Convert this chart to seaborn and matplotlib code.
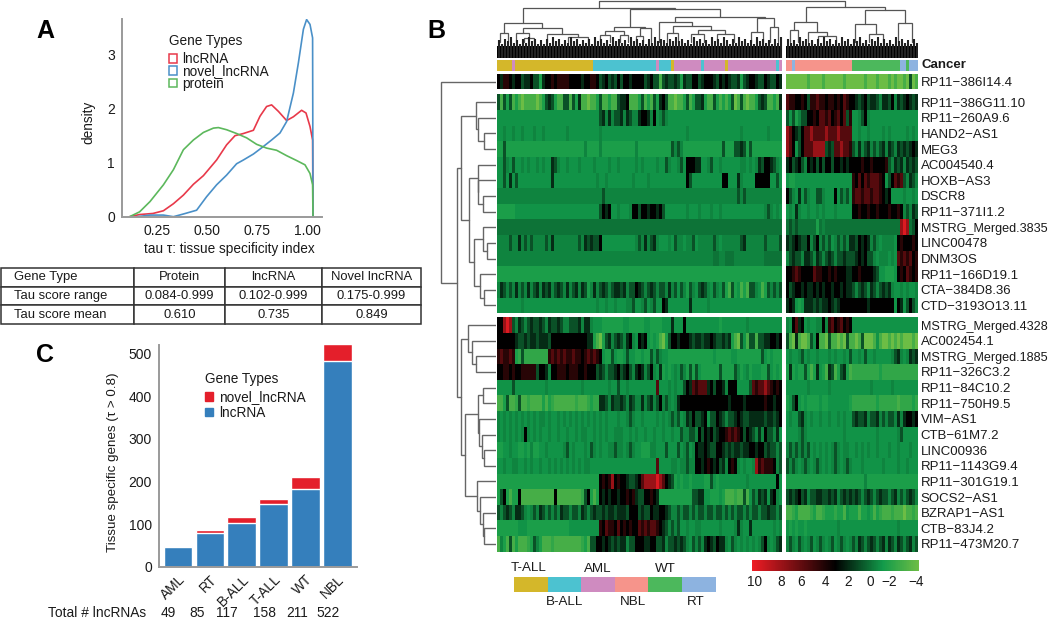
import numpy as np
import pandas as pd
import seaborn as sns
import matplotlib.pyplot as plt
import matplotlib.transforms as mtrans
from matplotlib.colors import LinearSegmentedColormap, ListedColormap
from matplotlib.patches import Patch

W, H = 1050, 619

# ---- panel A: density curves
protein_x = [.083, .133, .185, .252, .302, .352, .402, .452, .502, .527, .568, .618, .668, .718, .768, .818, .868, .918, .96, .985, .998, 1.0]
protein_y = [0, .09, .28, .59, .87, 1.24, 1.42, 1.56, 1.64, 1.65, 1.61, 1.54, 1.46, 1.34, 1.27, 1.23, 1.13, 1.04, .96, .80, .59, 0]
lnc_x = [.083, .133, .20, .252, .302, .352, .402, .452, .518, .568, .61, .652, .702, .735, .768, .793, .827, .868, .902, .943, .965, .985, .998, 1.0]
lnc_y = [0, .04, .06, .11, .24, .40, .60, .76, 1.05, 1.33, 1.50, 1.54, 1.60, 1.86, 2.04, 2.07, 1.95, 1.78, 1.85, 1.97, 1.92, 1.67, 1.42, 0]
novel_x = [.12, .185, .252, .302, .352, .418, .468, .518, .568, .618, .652, .702, .752, .793, .835, .868, .902, .927, .952, .968, .985, .998, 1.0]
novel_y = [0, .03, .03, 0, .05, .12, .37, .59, .77, .98, 1.05, 1.16, 1.30, 1.42, 1.55, 1.76, 2.29, 2.85, 3.47, 3.65, 3.56, 3.31, 0]

table_rows = [
    ["Gene Type", "Protein", "lncRNA", "Novel lncRNA"],
    ["Tau score range", "0.084-0.999", "0.102-0.999", "0.175-0.999"],
    ["Tau score mean", "0.610", "0.735", "0.849"],
]

# ---- panel C: stacked bars
cancers = ["AML", "RT", "B-ALL", "T-ALL", "WT", "NBL"]
total_lnc = [49, 85, 117, 158, 211, 522]
known_lnc = [46, 78, 103, 147, 183, 483]

# ---- panel B: heatmap rows, one letter per column, groups only to keep the eye aligned
LEVELS = {"l": -4, "h": -2.7, "g": -2, "i": -1.3, "m": -0.8, "d": -0.4, "c": 0, "v": 0.9,
          "b": 1.9, "k": 3, "w": 4.2, "r": 5.5, "s": 7.5, "t": 9.5}

row_names = ["RP11−386I14.4", "RP11−386G11.10", "RP11−260A9.6", "HAND2−AS1", "MEG3", "AC004540.4",
             "HOXB−AS3", "DSCR8", "RP11−371I1.2", "MSTRG_Merged.3835", "LINC00478", "DNM3OS",
             "RP11−166D19.1", "CTA−384D8.36", "CTD−3193O13.11", "MSTRG_Merged.4328", "AC002454.1",
             "MSTRG_Merged.1885", "RP11−326C3.2", "RP11−84C10.2", "RP11−750H9.5", "VIM−AS1",
             "CTB−61M7.2", "LINC00936", "RP11−1143G9.4", "RP11−301G19.1", "SOCS2−AS1",
             "BZRAP1−AS1", "CTB−83J4.2", "RP11−473M20.7"]

heat_left = [
    "kbwwkbkkvbbkvvibkkw kwwwwkkkkbkkwwkvbkv bvkvkkbkkkkvbkvvhvb vvbvibvvkkvbkkkbvkb kbvvbivbkkbvvkbvvkb",
    "vhvivhihlhhhhlhivbv ihhvvhvibhhlhhivhhi hhvbbkhhhivhihvibkv hhlhhivhivvbihhvihi hivlhvhlhhivbvhhihb",
    "mmmmmmmmmmmmmmmmmmm mmmmmmmmmmmmmmmvbdb dvvbdbvddbkkbdkmdvd mmmmmmmmmmmmmmmmmmm mmmmmmmmmmmmmmmmmmm",
    "mmdmmdmmdmmmdmmdmmm mmmmdmmmmmmmmmmdmmm mmmmmmmmmmmmmmmmmmm mmmmmmdmmmmmmmmmmmm mmmmmdmmmmmmmmdmmmm",
    "iiviiiiiiiiiiiiiiii iiiiiiiiiidiiiidiii iiiiiiiidiiiiiiiiii ivdvdiiiiiiiiiiiiiv iiivvbviviiiiiiiiii",
    "mmvdmvmmdmdmmdmdmmb vdmmdmmmdmmmmdmmmmd mmdmmmmmdmdmmmmdmmv dmmdvmkkkbbmmdvmmdm mmmmmddmdmdbvkkbvdm",
    "mmvmbmvmmmmmmmmmmmb mmmmmmmmmmmmmmdmmdm mmmmmmmdmmmmdmmmmmm mmmmmmkvmmmmmmmmmmk kmmmbdmmmmkkkkkmmvm",
    "ddddddddddddddddddd ddddddddddddddddvdd ddddddddddddddddddd ddddddddddddddddddd ddddvdvdddddddddddd",
    "iiiiiimmmmmmmmmmmmm mmmmmmmmmmmmmmmvkbk mmdmmmdkkvkkbkkbkvm mmmmmmdmmmdmmmdmmdm mmmmmmmmmmmmmdvdmdm",
    "ccccccccccccccccccc ccccccccccccccccccc ccccccccccccccccccc ccccccccccccccccccc ccccccccccccccccccc",
    "ddddvddbdvdvddddvdb ddddddddvdbvbvvkmmm mmmmmmmmdvdbdvbdmmm dmvddmddvmdddddvdmd dddddvbddddddvddddv",
    "ddddddddddddddddddd ddddddddddddddddddd ddddddddddddddddddd dddddddddddddddccdd cccddddddddddcccccc",
    "iiiiiiiiiiiiiiiiiii iiiiiiiiiiiiiiiiiii iiiiiiiiiiiiiiiiiii iiiiiiiiiiiiiiiiiii iiiiiiiiiiiiiiiiiii",
    "dbvdvdbdvdbdvbdbvbd vbvdbdvbdbvidbdvbvd vbbvbdvvkbvdvbvdvvd bdvmvdivdmvbvdmvdmv ihvimhihvvdmhivdvdv",
    "mmmmmmmmdmmmmmmmmmm mmmmmmmmmmmmmmdmmdm mdmmmddvmmdvmdvmmkb mmmmmmmbmmmmmdmmmmm mmmmmmmmmmmmmmmmmmm",
    "kkstsvdbvdvbvvbvdbv vbvddvvvbdbbdmmmiii iiiimmiiiiimmiiiimm mbmmmkmmmmmmmmmmmim mmmmmmmdmmmmmmmmmmm",
    "kkkkkkbvvbvbbvbbbvk kkkkkkkkkkkbbihlivb dvbvdbkdmkbkmimihli vkkbkkkbvbbvbbkbvvb vbihlvmhvvhvvbbkkbk",
    "wrwwrwigvggggggggwr wrwrwwrwwkwrwrwkmii vmiimvmmiimiivmvdmm iiiiiiiiiiiiiiimiii iimmiiiiiiiivmimiii",
    "kkwwkwkkwwwwwvkkbdk kwwwkwwwkkwkkkvbvdv vbkvbkvdbkbdvkdmbim imdmvdivivmiiiiiivi iiivdimdimmmiivmimi",
    "mmmmmvmmmmmmmmmmdmm mmmmmmmmmdmmmmmmmmd mmvmmdmmmmmmmmmrmmm dmdmmvkbrwrrrbkvkkb dkkkmmmmvrwrrsrwkwk",
    "hhivhhgvhhghhhhihig hhhhhhhghhhgiggbbvd bvvbvdbvddbdvbdvkdv dmdbkkkkkkkkkkkkkkk kbkkkkbkkkkkkwkkbkk",
    "dmdmdmdmdmdmdmddmdm mdmdmdmdmdmdmdmdmdm mmdmmdvdmmdmmmmdmdm dvdvmdbvkvvbkmvvkbv dvvbkbvvbbbbbvbbvbk",
    "dmdmdmdmdkdmdmdmmdm mdmmdmmdmddmmdmdmdm mdddmmdmdmmdmmdmmdm mdmmvddvvdkvkbkvbkk wrwrwkvkbvdbdkvvdbm",
    "iimmdmmiimidiimmdmm mmmdvmdmmmdmvdmdmmd dvddmdvdmmiiiddmmmv mmmvmdvmdkbbkbvvkkb vbvbbvbbkkbkkvbvvdv",
    "mmdmmddmmdmdmmdmmdm dmdmdmdmdmddmmmmmmm mmmmmmmmmmmmmmmrmmm mddmddvddkkbkwkbkvb dkwkdmdmmdswrwwwkdv",
    "iiiiiiiiiiiiiiiiiii iiiiiiiiiiiiiiikwkw skwkkbvvbkrsssstsrk bvimimmimmmmiivmimm mmmmmmmdmmmmmmmmmkm",
    "ivkihiikhhhhhhhhhhh khhhhhhhhgvkihikbkb kkbkkwkwbvvkkwkbiii iiiiiiiivvbbmmiiimi hhhghhvhmvdbvbmbkdm",
    "vdvbvdbbvdmdvdbvdvd vdbvvdvvdbvdvbvvbvb bvbbbvkkkvbvvkbbkkb vddvdvvdvdvvdvvdvvd vdvdvvdvdvvdvvbvvdv",
    "iiiiiiimmmiiiiiiiii iiiiimmmmmmmmmmwkrw wkrkwkwkkrwrwrrwkbv dvdvmmdmmddmmmmmmdm mmmdbdmmbmmmmmmmdmd",
    "hdihvhihhhgivdihhhg hhhhhhhhhgihvvkkbkb vbvbbdvvkkkbbkkvvbd vvbvbvdmvdvdbkbvkbb dmvdmdmdmdmdvkdmdvb",
]
heat_right = [
    "lllllllhlll lhllllllhll llllhlllhll lhlhllhlvlh",
    "rwwkkwkvwwr wwkwwkwkrwk kbvbkvbbvdb bvkdbvbkbvb",
    "vmvidvvkkwk rrwrkwrkrvw mmdvkdmmmmm mmmmmmmmmmm",
    "srkbvkrrsrr rrsrrrsrrrr mmdmmdmmmmd mdmmmmmdmdm",
    "srkmvkrrrss ssvbvrrsrrw vdbdvbdvdvb dbvdbvbvbkb",
    "bkvbkvdkbkv kvkkvkkbkbk kkkwkkwkkkk wvdbvbdbvbv",
    "miimmmmmmmm mmmmmmmmmmm wkrkrwrrrwk mvkrwrvdbvd",
    "kvdmbmvdmmv vdmmmkmvdvm wrrwrrwrrwk bkmmmmdmmdm",
    "mdmbdmmdmmd mdmmmdmmmmm kkwkkwkkwkk kwkkwkdvdbv",
    "cvcvcccccci cdccccccccc ccccccccccc cccccstscvk",
    "bvbkbvvkdvk dvdvmdvdvdb bvkbkbdvdmd dddmkwkkkwk",
    "dvbvvdbbvdb vdvbvdvvbvv vbkbkvvdmdd dmdmrwrwrkw",
    "kkwrwkkkkrw wkkwkwkkkbb kkwkkkkbvmm iiimkwkrwkw",
    "kvbkkbkbbkb kbkkbkkbkbb vdvbvdbvdvb vbdmmdmdmmd",
    "bkbmimbbbvb vbbkbvbkkkk kkkkkbkkkkk kkkmkbmvkvd",
    "dmkrbkmdmmd dkdwrkwrkwk mmmmmmmmmmm mmmmmmmmmmm",
    "vhlbhllhvmk hhlvhhlhlvh hlhvlllhmhl lhlhlhlllhl",
    "mdmmdvmdmmd mmmdmdmmdmv mmdmvmmdmmm mmdvbdmdbvb",
    "ibimiivihib mihbvhivbih gggggggggig ggggggggggg",
    "mmmmmmmdmmm mmmdmmmmmmm mmmmmmdmmmm mmdmmmmmmmm",
    "imvkmimiiii miimmmmmmmi ggggggggigg gggghggggig",
    "mdmmvbdmdmm dmmdmmdmdmm vbvvbdvvbdv dvvdbdbkkbk",
    "mmmmdvdmmmm mmmmmmmmdmm mmmmmmmmdmm mmmmdvmmmmm",
    "dvdvdvdvmdm dmdmdvdmddm mdmdmdmmdmm mdmmdmmmdmm",
    "vdvdmdvdmdv dmdmdvdmdvd mmmdmmmmmmd mmmmdmmdmmm",
    "iiiiiiiiiii iiiiiiiiiii iiiidiiiiii iiiiiiiiiii",
    "vbvbkvbdvvb bvvbvbdvbvb vbvdvbvdvbv vdvbdvdvbvd",
    "hhgihhhhgih hgiiigiihmi iihiimihigh hhghhhlhhgh",
    "mimimmimmmm mmmmmmdmmmm mmmmmmmmmmm mmmmdmmmmmm",
    "dvdmvdmdvmd vdmdvmdvdmd vdbvdvbvdvb dbvdbvdvbdv",
]

# sample annotation, one letter per column
cancer_left = "TTTTTATTTTTTTTTTTTT TTTTTTTTTTTTTBBBBBB BBBBBBBBBBBBBBBABBB BTAAAAAAAAABAAAAAAA TAAAAAAAAAAAAAAAABA"
cancer_right = "NNRNNNNNNNN NNNNNNNNNNN WWWWWWWWWWW WWWWWRRWRRR"
cancer_order = ["T", "B", "A", "N", "W", "R"]
cancer_names = ["T-ALL", "B-ALL", "AML", "NBL", "WT", "RT"]
cancer_colors = ["#d4b72a", "#4cc2d0", "#cf8bc0", "#f6948b", "#4cb85c", "#8db3e0"]

# column tree: (merge depth from top, left, right), an int is the width of a bottom cluster
col_tree_left = (8,
    (23,
        (33, 5, 11),
        (27.5,
            (33, 6, (38, 10, 10)),
            (34, 16, (37, 25, 15)))),
    (9,
        (27,
            (31, (35, 10, 10), (35, 9, 8)),
            (28, (36, 8, 6), 9)),
        (17,
            (22, 7,
                (26,
                    (33, 10, 12),
                    (30, (34, 14, 12), (34, 14, 19)))),
            (18,
                (32, 16, 7),
                (27, 7, 9)))))
col_tree_right = (7,
    (22,
        (30, 7, 10),
        (32, 9, (36, 12, 24))),
    (10,
        (24, 14, (34, 14, 13)),
        (23, 17, 12)))
# height of the solid comb under the tree, per column
comb_left = "5264735263746252637 4625374625362746352 7463527463526374653 6474635274635274637 5263746352746352637"
comb_right = "63527463526 37462537462 64735264736 35274635263"

# row tree: (distance from the heatmap, top, bottom), an int is a row
row_tree = (54.6, 0,
    (39.5,
        (34.8,
            (19.8, 1, (18.2, 2, (11.9, 3, 4))),
            (26.9,
                (18.5, 5, (18, 6, (13, 7, 8))),
                (22,
                    (13, 9, (9, 10, 11)),
                    (15.8, 12, (11.9, 13, 14))))),
        (34.8,
            (28, 15, (24, 16, (19.8, 17, 18))),
            (30.8,
                (17.8, (13, 19, 20), (17, 21, (13.8, 22, (11.9, 23, 24)))),
                (19, 25, (15.8, 26, (13, 27, (11.9, 28, 29))))))))

cbar_labels = ["10", "8", "6", "4", "2", "0", "−2", "−4"]
cbar_label_pos = [3, 29, 49, 73, 96, 118, 137, 164]

sns.set_theme(style="white")
plt.rcParams["font.family"] = ["Liberation Sans", "DejaVu Sans"]
plt.rcParams["text.color"] = "#1a1a1a"
plt.rcParams["axes.labelcolor"] = "#1a1a1a"
plt.rcParams["xtick.color"] = "#1a1a1a"
plt.rcParams["ytick.color"] = "#1a1a1a"

fig = plt.figure(figsize=(W / 100, H / 100), dpi=100, facecolor="white")


def px_axes(x0, y0, x1, y1):
    return fig.add_axes([x0 / W, 1 - y1 / H, (x1 - x0) / W, (y1 - y0) / H])


def px_text(x, y, s, **kw):
    kw.setdefault("va", "center")
    kw.setdefault("ha", "center")
    fig.text(x / W, 1 - y / H, s, **kw)


def grey_axes(ax):
    sns.despine(ax=ax)
    for side in ["left", "bottom"]:
        ax.spines[side].set_color("#9a9a9a")
        ax.spines[side].set_linewidth(1.4)
    ax.tick_params(length=2, width=0.7, color="#9a9a9a", pad=3, labelsize=10)


for letter, lx, ly in [("A", 45, 31), ("B", 436, 31), ("C", 45, 355)]:
    px_text(lx, ly, letter, fontsize=18, fontweight="bold", color="black")

# ====================== A. density ======================
density = pd.concat([
    pd.DataFrame({"tau": lnc_x, "density": lnc_y, "type": "lncRNA"}),
    pd.DataFrame({"tau": novel_x, "density": novel_y, "type": "novel_lncRNA"}),
    pd.DataFrame({"tau": protein_x, "density": protein_y, "type": "protein"}),
])
type_colors = {"lncRNA": "#e8394a", "novel_lncRNA": "#4a90c8", "protein": "#5cb85c"}
ax_a = px_axes(122, 19, 322, 216.7)
sns.lineplot(data=density, x="tau", y="density", hue="type", palette=type_colors, estimator=None,
             sort=False, linewidth=1.2, legend=False, ax=ax_a)
ax_a.set_xlim(0.045, 1.045)
ax_a.set_ylim(0, 3.66)
ax_a.set_xticks([0.25, 0.5, 0.75, 1.0], ["0.25", "0.50", "0.75", "1.00"])
ax_a.set_yticks([0, 1, 2, 3])
ax_a.set_xlabel("")
ax_a.set_ylabel("")
grey_axes(ax_a)
shift = mtrans.ScaledTranslation(-6 / 100, 0, fig.dpi_scale_trans)
for lab in ax_a.get_xticklabels():
    lab.set_transform(lab.get_transform() + shift)
px_text(88, 122, "density", fontsize=9.8, rotation=90)
px_text(229, 249, "tau τ: tissue specificity index", fontsize=9.8)
handles_a = [Patch(facecolor="none", edgecolor=c, linewidth=1.1, label=k) for k, c in type_colors.items()]
leg = fig.legend(handles=handles_a, title="Gene Types", loc="upper left", bbox_to_anchor=(158 / W, 1 - 23 / H),
                 frameon=False, fontsize=9.8, title_fontsize=9.8, labelspacing=-0.12, handlelength=0.6,
                 handleheight=0.6, handletextpad=0.35, borderpad=0.3)
leg._legend_box.align = "left"
leg._legend_box.sep = 3

# ---- table under A
ax_t = px_axes(1, 268, 421, 324)
ax_t.axis("off")
tab = ax_t.table(cellText=table_rows, bbox=[0, 0, 1, 1], cellLoc="center",
                 colWidths=[133 / 420, 91 / 420, 97 / 420, 99 / 420])
tab.auto_set_font_size(False)
tab.set_fontsize(9.4)
for (r, c), cell in tab.get_celld().items():
    cell.set_edgecolor("#333333")
    cell.set_linewidth(1.1)
    cell.get_text().set_color("#1a1a1a")
    if c == 0:
        cell.set_text_props(ha="left")
        cell._loc = "left"
        cell.PAD = 0.1

# ====================== C. stacked bars ======================
bars = pd.DataFrame({"cancer": cancers, "total": total_lnc, "known": known_lnc})
ax_c = px_axes(159, 345, 357, 566.7)
sns.barplot(data=bars, x="cancer", y="total", color="#e41f2b", saturation=1, width=0.9, ax=ax_c)
sns.barplot(data=bars, x="cancer", y="known", color="#357fbc", saturation=1, width=0.9, ax=ax_c)
ax_c.set_xlim(-0.6, 5.62)
ax_c.set_ylim(0, 520)
ax_c.set_yticks([0, 100, 200, 300, 400, 500])
ax_c.set_xlabel("")
ax_c.set_ylabel("")
grey_axes(ax_c)
ax_c.tick_params(axis="x", pad=2)
plt.setp(ax_c.get_xticklabels(), rotation=45, ha="right", rotation_mode="anchor", fontsize=9.8)
px_text(113, 462, "Tissue specific genes (τ > 0.8)", fontsize=9.6, rotation=90)
px_text(48, 613, "Total # lncRNAs", ha="left", fontsize=9.9)
for val, tx in zip(total_lnc, [168, 197, 227, 264, 297, 328]):
    px_text(tx, 613, str(val), fontsize=9.9)
handles_c = [Patch(color="#e41f2b", label="novel_lncRNA"), Patch(color="#357fbc", label="lncRNA")]
leg_c = fig.legend(handles=handles_c, title="Gene Types", loc="upper left", bbox_to_anchor=(194 / W, 1 - 361 / H),
                   frameon=False, fontsize=9.8, title_fontsize=9.8, labelspacing=0.12, handlelength=0.6,
                   handleheight=0.6, handletextpad=0.45, borderpad=0.3)
leg_c._legend_box.align = "left"
leg_c._legend_box.sep = 3

# ====================== B. heatmap ======================
heat_cmap = LinearSegmentedColormap.from_list(
    "heat", [(0, "#6cbd45"), (3 / 14, "#129a4a"), (7 / 14, "#000000"), (1, "#ed1c24")])


def row_values(row, n):
    s = row.replace(" ", "")
    s = (s + s[-1] * n)[:n]
    return [LEVELS[c] for c in s]


left_mat = np.array([row_values(r, 95) for r in heat_left])
right_mat = np.array([row_values(r, 44) for r in heat_right])

blocks = [(74, 89.3, 0, 1), (94.3, 313.3, 1, 15), (317.3, 551.7, 15, 30)]
for y0, y1, a, b in blocks:
    ax_l = px_axes(497, y0, 782, y1)
    sns.heatmap(left_mat[a:b], ax=ax_l, cmap=heat_cmap, vmin=-4, vmax=10, cbar=False,
                xticklabels=False, yticklabels=False)
    ax_r = px_axes(786, y0, 918, y1)
    sns.heatmap(right_mat[a:b], ax=ax_r, cmap=heat_cmap, vmin=-4, vmax=10, cbar=False,
                xticklabels=False, yticklabels=row_names[a:b])
    ax_r.yaxis.tick_right()
    ax_r.tick_params(axis="y", length=0, pad=2, labelsize=9.5, labelrotation=0)
    for lab in ax_r.get_yticklabels():
        if lab.get_text().startswith("MSTRG"):
            lab.set_fontsize(9.1)

# cancer annotation strip
cancer_cmap = ListedColormap(cancer_colors)
for txt, x0, x1 in [(cancer_left, 497, 782), (cancer_right, 786, 918)]:
    codes = [[cancer_order.index(c) for c in txt.replace(" ", "")]]
    ax_s = px_axes(x0, 60, x1, 71)
    sns.heatmap(codes, ax=ax_s, cmap=cancer_cmap, vmin=-0.5, vmax=5.5, cbar=False,
                xticklabels=False, yticklabels=False)
px_text(921, 65, "Cancer", ha="left", fontsize=9.5, fontweight="bold")

# ---- column dendrogram
ax_d = px_axes(497, 0, 918, 58)
ax_d.set_xlim(0, 421)
ax_d.set_ylim(58, 0)
ax_d.axis("off")
DEND = "#555555"


def draw_col(node, start):
    # returns centre x, merge y, and where the next leaf starts
    if isinstance(node, int):
        return start + node / 2, 42, start + node
    y, a, b = node
    xa, ya, end = draw_col(a, start)
    xb, yb, end = draw_col(b, end)
    ax_d.plot([xa, xa, xb, xb], [ya, y, y, yb], color=DEND, lw=0.9, solid_joinstyle="miter")
    return (xa + xb) / 2, y, end


xl, yl, end_l = draw_col(col_tree_left, 0)
xr, yr, _ = draw_col(col_tree_right, end_l + 4)
ax_d.plot([xl, xl, xr, xr], [yl, 1, 1, yr], color=DEND, lw=0.9)
for txt, start in [(comb_left, 0), (comb_right, end_l + 4)]:
    heights = [int(c) for c in txt.replace(" ", "")]
    xs = start + 1.5 + 3 * np.arange(len(heights))
    ax_d.vlines(xs, [47 - 1.4 * h for h in heights], 58, color="#222222", lw=1.5)
    ax_d.fill_between([start, start + 3 * len(heights)], 46, 58, color="black", lw=0)

# ---- row dendrogram
row_y = {}
for y0, y1, a, b in blocks:
    step = (y1 - y0) / (b - a)
    for i in range(a, b):
        row_y[i] = y0 + (i - a + 0.5) * step
ax_rd = px_axes(440, 0, 496, H)
ax_rd.set_xlim(56, 0)
ax_rd.set_ylim(H, 0)
ax_rd.axis("off")


def draw_row(node):
    if isinstance(node, int):
        return row_y[node], 0
    d, a, b = node
    ya, da = draw_row(a)
    yb, db = draw_row(b)
    ax_rd.plot([da, d, d, db], [ya, ya, yb, yb], color="#666666", lw=1.0, solid_joinstyle="miter")
    return (ya + yb) / 2, d


draw_row(row_tree)

# ---- cancer colour key
ax_k = px_axes(514, 577, 715.5, 592)
sns.heatmap([list(range(6))], ax=ax_k, cmap=cancer_cmap, vmin=-0.5, vmax=5.5, cbar=False,
            xticklabels=False, yticklabels=False)
for name, kx, ky in zip(cancer_names, [529, 565, 598, 633, 665, 696], [568, 602, 569, 602, 569, 602]):
    px_text(kx, ky, name, fontsize=9.6)

# ---- colour scale
ax_b = px_axes(752, 560, 919, 571)
sns.heatmap([np.linspace(10, -4, 167)], ax=ax_b, cmap=heat_cmap, vmin=-4, vmax=10, cbar=False,
            xticklabels=False, yticklabels=False)
ax_b.set_xticks(cbar_label_pos, cbar_labels, rotation=0)
ax_b.tick_params(axis="x", length=0, pad=3, labelsize=9.8)

fig.savefig("out.png", dpi=100)
